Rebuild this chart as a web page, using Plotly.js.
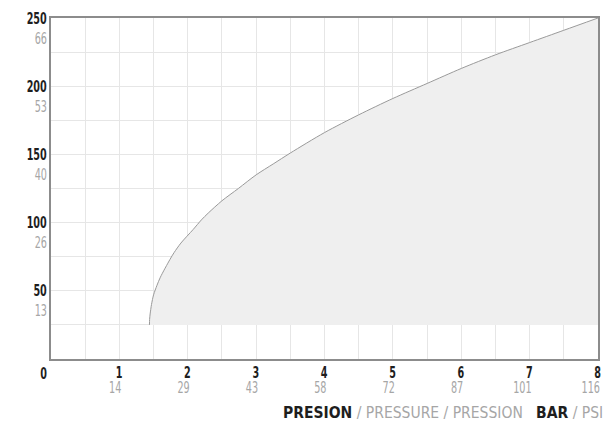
<!DOCTYPE html>
<html>
<head>
<meta charset="utf-8">
<script src="https://cdn.plot.ly/plotly-3.0.1.min.js"></script>
<style>html,body{margin:0;padding:0;background:#fff;}#chart{width:608px;height:430px;}</style>
</head>
<body>
<div id="chart"></div>
<script>
// Curve: pressure (bar) vs flow (l/min)
var pressureBar = [1.44, 1.442, 1.45, 1.47, 1.50, 1.55, 1.60, 1.74, 1.80, 1.90, 2.08, 2.20, 2.30, 2.50, 2.74, 3.0, 3.25, 3.5, 4.0, 4.5, 5.0, 5.5, 6.0, 6.5, 7.0, 7.5, 8.0];
var flowLmin   = [25, 29, 33, 40, 47, 54, 60, 73, 78, 85, 95, 102, 107, 116, 125, 135, 143, 151, 166, 179, 191, 202, 213, 223, 232, 241, 250];
var baseFlow = 25;

// Axis ticks
var xGridVals = [0,0.5,1,1.5,2,2.5,3,3.5,4,4.5,5,5.5,6,6.5,7,7.5,8];
var barTicks = [1,2,3,4,5,6,7,8];
var psiLabels = ['14','29','43','58','72','87','101','116'];
var yGridVals = [0,25,50,75,100,125,150,175,200,225,250];
var lminTicks = [50,100,150,200,250];
var galLabels = ['13','26','40','53','66'];
var zeroLabel = '0';

var FONT = '"DejaVu Sans Condensed","DejaVu Sans",sans-serif';
var DARK = '#1e1e1e', GREY = '#a6a6a6';

var xText = xGridVals.map(function(v){ return barTicks.indexOf(v) >= 0 ? '<b>'+v+'</b>' : ''; });
var yText = yGridVals.map(function(v){ return lminTicks.indexOf(v) >= 0 ? '<b>'+v+'</b>' : ''; });

function ghost(xa, ya){
  return {x:[barTicks[0]], y:[lminTicks[0]], mode:'markers', marker:{opacity:0, size:1},
          hoverinfo:'skip', showlegend:false, xaxis:xa, yaxis:ya};
}

var traces = [
  {x:[pressureBar[0], pressureBar[pressureBar.length-1]], y:[baseFlow, baseFlow], mode:'lines',
   line:{width:0, color:'rgba(0,0,0,0)'}, hoverinfo:'skip', showlegend:false, xaxis:'x', yaxis:'y'},
  {x:pressureBar, y:flowLmin, mode:'lines', fill:'tonexty', fillcolor:'#efefef',
   line:{color:'#9a9a9a', width:1, shape:'spline', smoothing:0.8}, hoverinfo:'skip', showlegend:false, xaxis:'x', yaxis:'y'},
  ghost('x2','y'), ghost('x','y2'), ghost('x','y3')
];

var layout = {
  width:608, height:430,
  margin:{l:51, r:10, t:18, b:71},
  paper_bgcolor:'#fff', plot_bgcolor:'#fff',
  showlegend:false,
  xaxis:{range:[0,8], tickmode:'array', tickvals:xGridVals, ticktext:xText,
    showgrid:true, gridcolor:'#e6e6e6', gridwidth:1, zeroline:false,
    showline:true, linecolor:'#8c8c8c', linewidth:2, mirror:true, ticks:'',
    tickfont:{family:FONT, size:16, color:DARK}, ticklabelstandoff:-2, ticklabelshift:3,
    ticklabeloverflow:'allow', fixedrange:true},
  xaxis2:{range:[0,8], overlaying:'x', anchor:'y', side:'bottom', tickmode:'array',
    tickvals:barTicks, ticktext:psiLabels, showgrid:false, zeroline:false, showline:false, ticks:'',
    tickfont:{family:FONT, size:16, color:GREY}, ticklabelstandoff:17, ticklabelshift:2,
    ticklabeloverflow:'allow'},
  yaxis:{range:[0,250], tickmode:'array', tickvals:yGridVals, ticktext:yText,
    showgrid:true, gridcolor:'#e6e6e6', gridwidth:1, zeroline:false,
    showline:true, linecolor:'#8c8c8c', linewidth:2, mirror:true, ticks:'',
    tickfont:{family:FONT, size:16, color:DARK}, ticklabelshift:2.5, ticklabelstandoff:-1, fixedrange:true},
  yaxis2:{range:[0,250], overlaying:'y', anchor:'x', side:'left', tickmode:'array',
    tickvals:lminTicks, ticktext:galLabels, showgrid:false, zeroline:false, showline:false, ticks:'',
    tickfont:{family:FONT, size:16, color:GREY}, ticklabelshift:20, ticklabelstandoff:3},
  yaxis3:{range:[0,250], overlaying:'y', anchor:'x', side:'left', tickmode:'array',
    tickvals:[0], ticktext:['<b>'+zeroLabel+'</b>'], showgrid:false, zeroline:false, showline:false, ticks:'',
    tickfont:{family:FONT, size:16, color:DARK}, ticklabelshift:14, ticklabelstandoff:3},
  annotations:[{
    xref:'paper', yref:'paper', x:1.012, y:-0.158, xanchor:'right', yanchor:'middle', showarrow:false,
    font:{family:FONT, size:15.5, color:GREY},
    text:'<b><span style="color:'+DARK+'">PRESION</span></b> / PRESSURE / PRESSION&nbsp;&nbsp;&nbsp;<b><span style="color:'+DARK+'">BAR</span></b> / PSI'
  }]
};

// Narrow the tick digits to the condensed look of the reference (text stays text)
function condense(gd){
  var sel = gd.querySelectorAll('g.xtick > text, g.x2tick > text, g.ytick > text, g.y2tick > text, g.y3tick > text');
  sel.forEach(function(t){
    var w = t.getComputedTextLength();
    if (w > 0) {
      t.setAttribute('textLength', (w * 0.67).toFixed(2));
      t.setAttribute('lengthAdjust', 'spacingAndGlyphs');
    }
    if (t.parentNode.classList.contains('xtick') || t.parentNode.classList.contains('x2tick')) {
      t.setAttribute('text-anchor', 'end');
    }
  });
}

Plotly.newPlot('chart', traces, layout, {displayModeBar:false, staticPlot:true}).then(function(gd){ condense(gd); });
</script>
</body>
</html>
